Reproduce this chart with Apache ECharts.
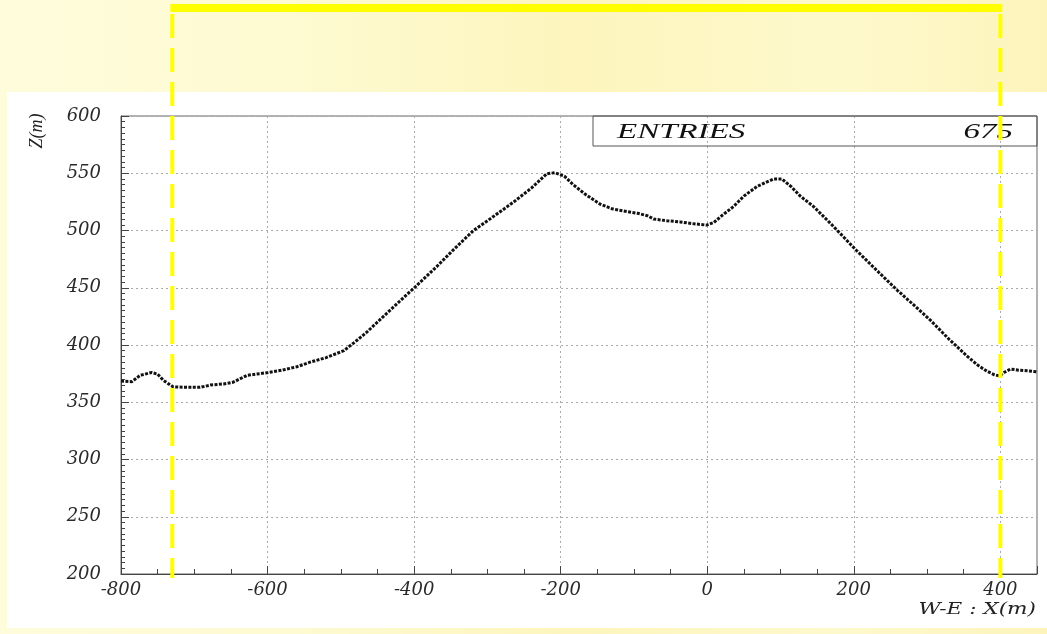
<!DOCTYPE html>
<html>
<head>
<meta charset="UTF-8">
<title>W-E profile</title>
<style>
  body { margin: 0; width: 1047px; height: 634px; overflow: hidden;
         background: linear-gradient(90deg, #fffcdc 0%, #fefad0 30%, #fdf5bd 55%, #fef9cc 80%, #fdf4bc 100%); }
  #panel { position: absolute; left: 7px; top: 92px; width: 1040px; height: 536px; background: #fff; }
  #main { position: absolute; left: 0; top: 0; width: 1047px; height: 634px; }
</style>
</head>
<body>
  <div id="panel"></div>
  <div id="main"></div>
<script src="https://cdn.jsdelivr.net/npm/echarts@6.0.0/dist/echarts.min.js"></script>
<script type="text/javascript">
// profile: W-E position X(m) and height Z(m)
var xPos = [-800, -785, -774, -758, -750, -742, -729, -710, -692, -678, -660, -647, -628, -610, -599,
            -580, -560, -542, -520, -496, -480, -465, -440, -420, -398, -370, -345, -319, -290, -264,
            -240, -219, -208, -195, -183, -165, -146, -130, -114, -95, -82, -73, -55, -37, -20,
            -1, 9, 20, 36, 50, 68, 80, 91, 102, 115, 127, 145, 170, 203, 230,
            259, 280, 304, 330, 355, 370, 382, 392, 399, 405, 414, 425, 436, 450];
var zPos = [368.5, 368, 373.5, 376, 374.5, 369, 363.5, 363, 363, 365, 366, 367.5, 373.5, 375, 376,
            378, 381, 385, 389, 395, 403, 411, 426, 438, 451, 468, 484, 500, 513, 525,
            537, 549.5, 550.5, 547.5, 540, 531, 523, 519, 517, 515, 513, 510, 508.5, 507.5, 506,
            504.7, 507, 513, 521, 530, 538.5, 542, 545, 545, 538, 530, 521, 505, 483, 466,
            448, 436, 422, 405, 390, 382, 377, 374, 373, 376, 379, 378, 377.5, 376.5];
var entries = 675;
var cutX = [-730, 400];   // yellow cut lines

var profile = [];
for (var i = 0; i < xPos.length; i++) {
  profile.push([xPos[i], zPos[i]]);
}

var labelFont = { fontFamily: 'DejaVu Serif', fontStyle: 'italic', fontSize: 18, color: '#2a2a2a' };
var gridLine = { show: true, lineStyle: { color: '#aaa', width: 1, type: [2, 3] } };

var myChart = echarts.init(document.getElementById('main'));
myChart.setOption({
  backgroundColor: 'transparent',
  animation: false,
  grid: {
    left: 121, right: 10, top: 116, bottom: 60,
    show: true, borderColor: '#666', borderWidth: 1
  },
  xAxis: {
    type: 'value', min: -800, max: 450, interval: 200,
    axisLine: { show: true, onZero: false, lineStyle: { color: '#444' } },
    axisTick: { show: true, inside: true, length: 8, lineStyle: { color: '#444' } },
    minorTick: { show: true, splitNumber: 4, length: 5, lineStyle: { color: '#444' } },
    axisLabel: Object.assign({ margin: 7, showMaxLabel: false }, labelFont),
    splitLine: Object.assign({ showMaxLine: false }, gridLine)
  },
  yAxis: {
    type: 'value', min: 200, max: 600, interval: 50,
    axisLine: { show: true, onZero: false, lineStyle: { color: '#444' } },
    axisTick: { show: true, inside: true, length: 8, lineStyle: { color: '#444' } },
    minorTick: { show: true, splitNumber: 10, length: 4, lineStyle: { color: '#444' } },
    axisLabel: Object.assign({ margin: 20 }, labelFont),
    splitLine: gridLine
  },
  series: [{
    type: 'line',
    data: profile,
    showSymbol: false,
    lineStyle: { color: '#111', width: 3, type: [3, 1.4] }
  }]
});

var xl = myChart.convertToPixel({ xAxisIndex: 0 }, cutX[0]);
var xr = myChart.convertToPixel({ xAxisIndex: 0 }, cutX[1]);
var yBottom = myChart.convertToPixel({ yAxisIndex: 0 }, 200) + 4;

myChart.setOption({
  graphic: [
    // statistics box
    { type: 'rect', shape: { x: 593, y: 116, width: 444, height: 30 },
      style: { fill: 'none', stroke: '#555', lineWidth: 1 }, z: 50 },
    { type: 'text', x: 617, y: 132, scaleX: 1.5, originX: 0,
      style: { text: 'ENTRIES', fontFamily: 'Liberation Serif', fontStyle: 'italic', fontSize: 22,
               fill: '#111', verticalAlign: 'middle', align: 'left' }, z: 50 },
    { type: 'text', x: 1013, y: 132, scaleX: 1.5, originX: 0,
      style: { text: String(entries), fontFamily: 'Liberation Serif', fontStyle: 'italic', fontSize: 22,
               fill: '#111', verticalAlign: 'middle', align: 'right' }, z: 50 },
    // axis titles
    { type: 'text', x: 37, y: 131, rotation: Math.PI / 2,
      style: { text: 'Z(m)', fontFamily: 'Liberation Serif', fontStyle: 'italic', fontSize: 18,
               fill: '#222', align: 'center', verticalAlign: 'middle' }, z: 50 },
    { type: 'text', x: 1036, y: 610, scaleX: 1.35, originX: 0,
      style: { text: 'W-E : X(m)', fontFamily: 'DejaVu Serif', fontStyle: 'italic', fontSize: 16,
               fill: '#222', align: 'right', verticalAlign: 'middle' }, z: 50 },
    // yellow cut lines
    { type: 'line', shape: { x1: xl - 2, y1: 8, x2: xr + 2, y2: 8 },
      style: { stroke: '#ffff00', lineWidth: 8 }, z: 100 },
    { type: 'line', shape: { x1: xl, y1: 14, x2: xl, y2: yBottom },
      style: { stroke: '#ffff00', lineWidth: 4, lineDash: [24, 10] }, z: 100 },
    { type: 'line', shape: { x1: xr, y1: 14, x2: xr, y2: yBottom },
      style: { stroke: '#ffff00', lineWidth: 4, lineDash: [24, 10] }, z: 100 }
  ]
});
</script>
</body>
</html>
